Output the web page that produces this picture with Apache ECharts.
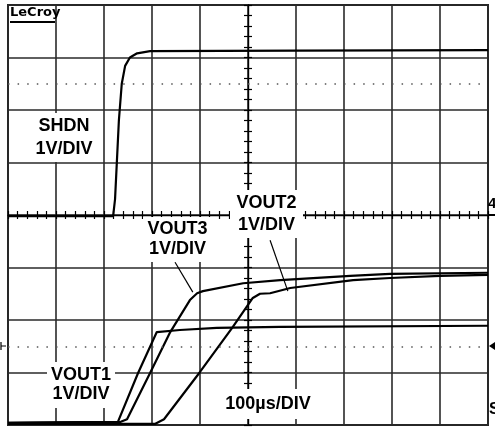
<!DOCTYPE html>
<html>
<head>
<meta charset="utf-8">
<script src="https://cdn.jsdelivr.net/npm/echarts@6/dist/echarts.min.js"></script>
<style>
html, body { margin: 0; padding: 0; background: #fff; }
#chart { width: 495px; height: 427px; }
</style>
</head>
<body>
<div id="chart"></div>
<script>
// time in µs (100 µs/div), level in screen divisions (1 V/div)
const shdn = [[0, 3.98], [219, 3.98], [223, 4.3], [227, 5.05], [231, 5.8], [237, 6.5], [244, 6.84],
  [254, 7.0], [269, 7.08], [296, 7.12], [600, 7.13], [1000, 7.14]];
const vout1 = [[0, 0.04], [229, 0.06], [271, 0.99], [310, 1.77], [358, 1.81], [435, 1.85],
  [567, 1.87], [1000, 1.89]];
const vout3 = [[0, 0.04], [235, 0.06], [248, 0.11], [296, 0.99], [338, 1.77], [379, 2.38],
  [394, 2.51], [406, 2.55], [490, 2.7], [567, 2.76], [713, 2.84], [796, 2.88], [1000, 2.9]];
const vout2 = [[0, 0.02], [306, 0.02], [325, 0.11], [400, 1.01], [467, 1.85], [500, 2.29],
  [510, 2.42], [525, 2.5], [546, 2.51], [588, 2.61], [719, 2.76], [796, 2.8], [900, 2.84], [1000, 2.86]];

// pointer lines from the labels to the traces
const vout3Pointer = [[348, 3.1], [385, 2.53]];
const vout2Pointer = [[546, 3.52], [583, 2.55]];

// dotted reference rows
const dotRows = [6.5, 1.5];

const FONT = 'bold 18px "Liberation Sans", Arial, sans-serif';

function trace(name, data, extra) {
  return Object.assign({
    name: name,
    type: 'line',
    data: data,
    showSymbol: false,
    symbol: 'none',
    animation: false,
    lineStyle: { color: '#000', width: 2.2 },
    z: 3
  }, extra || {});
}

function pointer(pts) {
  return {
    silent: true,
    symbol: 'none',
    animation: false,
    label: { show: false },
    lineStyle: { color: '#000', width: 1.2, type: 'solid' },
    data: [[{ coord: pts[0] }, { coord: pts[1] }]]
  };
}

function label(x, y, w, h, text, lh) {
  return {
    type: 'group',
    z: 100,
    children: [
      { type: 'rect', z: 100, shape: { x: x, y: y, width: w, height: h }, style: { fill: '#fff' } },
      {
        type: 'text', z: 101, x: x + w / 2, y: y + h / 2,
        style: { text: text, font: FONT, fill: '#000', align: 'center', verticalAlign: 'middle', lineHeight: lh }
      }
    ]
  };
}

const centerTick = { lineStyle: { color: '#000', width: 1.2 } };

const chart = echarts.init(document.getElementById('chart'));
chart.setOption({
  animation: false,
  grid: { left: 8, top: 5, width: 480, height: 420, show: true, borderColor: '#222', borderWidth: 2 },
  xAxis: [{
    type: 'value', min: 0, max: 1000, interval: 100,
    axisLine: { show: false }, axisTick: { show: false }, axisLabel: { show: false },
    splitLine: { show: true, lineStyle: { color: '#2a2a2a', width: 1.6 } }
  }, {
    type: 'value', min: -500, max: 500, interval: 20, position: 'bottom',
    axisLine: { show: true, onZero: true, onZeroAxisIndex: 1, lineStyle: { color: '#000', width: 1.4 } },
    axisTick: Object.assign({ show: true, inside: true, length: 4 }, centerTick),
    axisLabel: { show: false }, splitLine: { show: false }
  }, {
    type: 'value', min: -500, max: 500, interval: 20, position: 'bottom',
    axisLine: { show: false, onZero: true, onZeroAxisIndex: 1 },
    axisTick: Object.assign({ show: true, inside: false, length: 4 }, centerTick),
    axisLabel: { show: false }, splitLine: { show: false }
  }],
  yAxis: [{
    type: 'value', min: 0, max: 8, interval: 1,
    axisLine: { show: false }, axisTick: { show: false }, axisLabel: { show: false },
    splitLine: { show: true, lineStyle: { color: '#2a2a2a', width: 1.6 } }
  }, {
    type: 'value', min: -4, max: 4, interval: 0.2, position: 'left',
    axisLine: { show: true, onZero: true, onZeroAxisIndex: 1, lineStyle: { color: '#000', width: 1.4 } },
    axisTick: Object.assign({ show: true, inside: true, length: 4 }, centerTick),
    axisLabel: { show: false }, splitLine: { show: false }
  }, {
    type: 'value', min: -4, max: 4, interval: 0.2, position: 'left',
    axisLine: { show: false, onZero: true, onZeroAxisIndex: 1 },
    axisTick: Object.assign({ show: true, inside: false, length: 4 }, centerTick),
    axisLabel: { show: false }, splitLine: { show: false }
  }],
  series: [
    trace('SHDN', shdn, {
      markLine: {
        silent: true, symbol: 'none', animation: false, label: { show: false },
        lineStyle: { color: '#555', width: 1.5, type: [1.5, 8.1] },
        data: dotRows.map(v => ({ yAxis: v }))
      }
    }),
    trace('VOUT1', vout1),
    trace('VOUT3', vout3, { markLine: pointer(vout3Pointer) }),
    trace('VOUT2', vout2, { markLine: pointer(vout2Pointer) })
  ],
  graphic: [
    label(30, 113, 68, 49, 'SHDN\n1V/DIV', 23),
    label(143, 217, 69, 45, 'VOUT3\n1V/DIV', 20),
    label(230, 190, 73, 48, 'VOUT2\n1V/DIV', 22),
    label(47, 362, 68, 46, 'VOUT1\n1V/DIV', 19),
    label(220, 389, 96, 30, '100µs/DIV', 20),
    {
      type: 'text', z: 101, x: 10, y: 6,
      style: { text: 'LeCroy', font: 'bold 13px "DejaVu Sans", sans-serif', fill: '#000' }
    },
    { type: 'rect', z: 101, shape: { x: 10, y: 21, width: 45, height: 2 }, style: { fill: '#000' } },
    // channel markers on the screen edges
    { type: 'text', z: 101, x: 488, y: 196, style: { text: '4', font: 'bold 15px "Liberation Sans", Arial', fill: '#000' } },
    { type: 'rect', z: 101, shape: { x: 489, y: 214, width: 6, height: 2 }, style: { fill: '#000' } },
    { type: 'polygon', z: 101, shape: { points: [[495, 342], [489, 346], [495, 350]] }, style: { fill: '#000' } },
    { type: 'polyline', z: 101, shape: { points: [[1, 342], [1, 350], [1, 346], [6, 346]] }, style: { stroke: '#000', lineWidth: 1.2, fill: null } },
    { type: 'text', z: 101, x: 489, y: 402, style: { text: 'S', font: 'bold 16px "Liberation Sans", Arial', fill: '#000' } }
  ]
});
</script>
</body>
</html>
